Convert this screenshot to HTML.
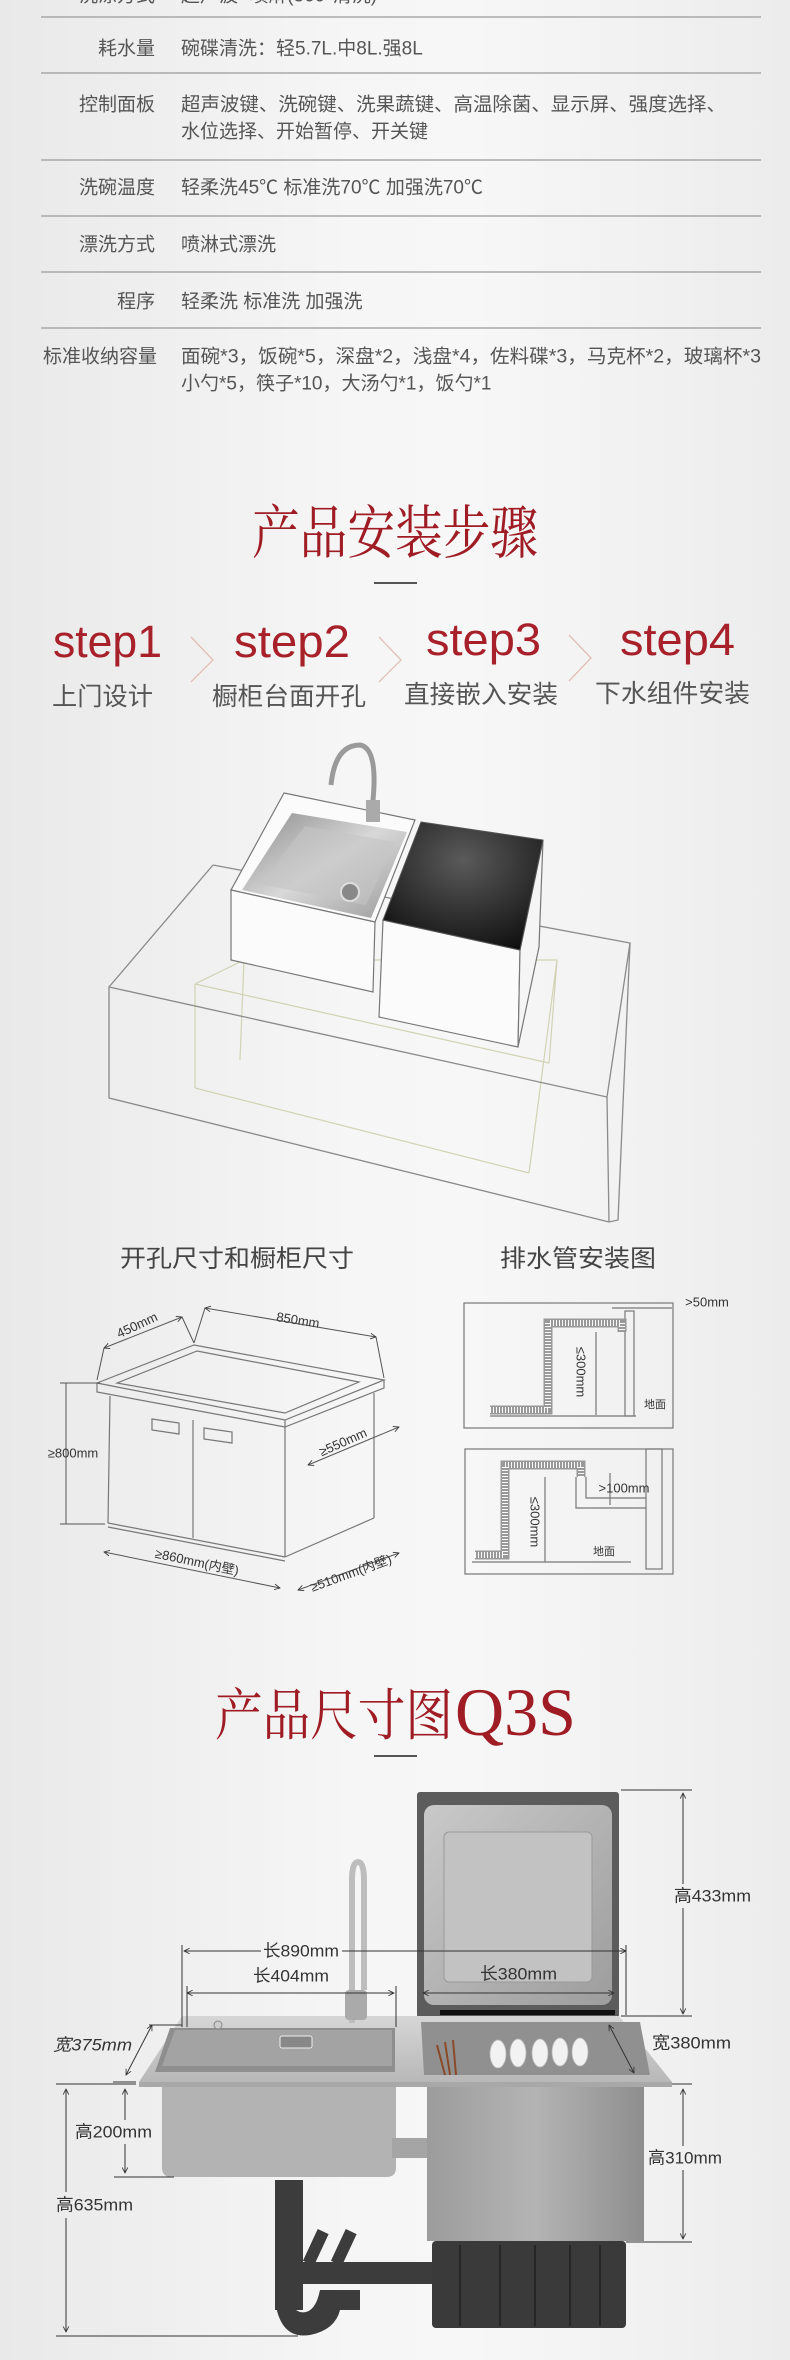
<!DOCTYPE html>
<html><head><meta charset="utf-8">
<style>
html,body{margin:0;padding:0;}
body{width:790px;height:2360px;overflow:hidden;background:linear-gradient(90deg,#e9e9e9 0%,#f6f6f6 45%,#f7f7f7 60%,#ececec 100%);}
svg{position:absolute;left:0;top:0;}
.t{font-family:"Liberation Sans","Noto Sans CJK SC",sans-serif;}
</style></head>
<body>
<svg width="790" height="2360" viewBox="0 0 790 2360" xmlns="http://www.w3.org/2000/svg">
<defs>
 <linearGradient id="basin" x1="0" y1="0" x2="1" y2="1">
  <stop offset="0" stop-color="#8a8a8a"/><stop offset="0.5" stop-color="#d8d8d8"/><stop offset="1" stop-color="#9a9a9a"/>
 </linearGradient>
 <radialGradient id="dark" cx="0.5" cy="0.3" r="0.8">
  <stop offset="0" stop-color="#5a5a5a"/><stop offset="1" stop-color="#0c0c0c"/>
 </radialGradient>
 <linearGradient id="slab" x1="0" y1="0" x2="0" y2="1">
  <stop offset="0" stop-color="#d6d6d6"/><stop offset="1" stop-color="#b8b8b8"/>
 </linearGradient>
 <linearGradient id="lid" x1="0" y1="0" x2="1" y2="1">
  <stop offset="0" stop-color="#c9c9c9"/><stop offset="1" stop-color="#9d9d9d"/>
 </linearGradient>
 <linearGradient id="body" x1="0" y1="0" x2="1" y2="0">
  <stop offset="0" stop-color="#9c9c9c"/><stop offset="0.5" stop-color="#b4b4b4"/><stop offset="1" stop-color="#8e8e8e"/>
 </linearGradient>
 <marker id="ar" viewBox="0 0 10 10" refX="9" refY="5" markerWidth="7" markerHeight="7" orient="auto-start-reverse">
  <path d="M1,1 L9,5 L1,9" fill="none" stroke="#333" stroke-width="1.2"/>
 </marker>
</defs>

<!-- ===== Spec table ===== -->
<g class="t" font-size="19" fill="#555" dominant-baseline="central">
 <text x="155" y="-4" text-anchor="end">洗涤方式</text>
 <text x="181" y="-4">超声波+喷淋(360°清洗)</text>
 <text x="155" y="49" text-anchor="end">耗水量</text>
 <text x="181" y="49">碗碟清洗：轻5.7L.中8L.强8L</text>
 <text x="155" y="105" text-anchor="end">控制面板</text>
 <text x="181" y="105" textLength="545" lengthAdjust="spacingAndGlyphs">超声波键、洗碗键、洗果蔬键、高温除菌、显示屏、强度选择、</text>
 <text x="181" y="132">水位选择、开始暂停、开关键</text>
 <text x="155" y="188" text-anchor="end">洗碗温度</text>
 <text x="181" y="188">轻柔洗45℃ 标准洗70℃ 加强洗70℃</text>
 <text x="155" y="245" text-anchor="end">漂洗方式</text>
 <text x="181" y="245">喷淋式漂洗</text>
 <text x="155" y="302" text-anchor="end">程序</text>
 <text x="181" y="302">轻柔洗 标准洗 加强洗</text>
 <text x="157" y="357" text-anchor="end">标准收纳容量</text>
 <text x="181" y="357" textLength="580" lengthAdjust="spacingAndGlyphs">面碗*3，饭碗*5，深盘*2，浅盘*4，佐料碟*3，马克杯*2，玻璃杯*3</text>
 <text x="181" y="384">小勺*5，筷子*10，大汤勺*1，饭勺*1</text>
</g>
<g stroke="#9a9a9a" stroke-width="1.3">
 <line x1="41" y1="17" x2="761" y2="17"/><line x1="41" y1="73" x2="761" y2="73"/>
 <line x1="41" y1="160" x2="761" y2="160"/><line x1="41" y1="216" x2="761" y2="216"/>
 <line x1="41" y1="272" x2="761" y2="272"/><line x1="41" y1="328" x2="761" y2="328"/>
</g>

<!-- ===== Install steps ===== -->
<text x="395" y="528" text-anchor="middle" dominant-baseline="central" font-family="'Noto Serif CJK SC',serif" font-size="58" fill="#a01c24" textLength="286" lengthAdjust="spacingAndGlyphs">产品安装步骤</text>
<rect x="374" y="582" width="43" height="2" fill="#555"/>
<g font-family="'Liberation Sans',sans-serif" font-size="45" fill="#a8202a">
 <text x="53" y="657" textLength="109" lengthAdjust="spacingAndGlyphs">step1</text>
 <text x="234" y="657" textLength="116" lengthAdjust="spacingAndGlyphs">step2</text>
 <text x="426" y="655" textLength="115" lengthAdjust="spacingAndGlyphs">step3</text>
 <text x="620" y="655" textLength="115" lengthAdjust="spacingAndGlyphs">step4</text>
</g>
<g fill="none" stroke="#e2bfb6" stroke-width="1.3">
 <polyline points="191,637 213,660 191,682"/>
 <polyline points="379,637 401,660 379,682"/>
 <polyline points="569,635 591,658 569,681"/>
</g>
<g class="t" font-size="25" fill="#555" dominant-baseline="central">
 <text x="52" y="697" textLength="101" lengthAdjust="spacingAndGlyphs">上门设计</text>
 <text x="212" y="697" textLength="154" lengthAdjust="spacingAndGlyphs">橱柜台面开孔</text>
 <text x="404" y="695" textLength="154" lengthAdjust="spacingAndGlyphs">直接嵌入安装</text>
 <text x="595" y="694" textLength="155" lengthAdjust="spacingAndGlyphs">下水组件安装</text>
</g>

<!-- ===== Wireframe install illustration ===== -->
<g fill="none" stroke="#d2d2b4" stroke-width="1.2">
 <polyline points="195,984 244,960 557,960 549,1063"/>
 <line x1="195" y1="984" x2="549" y2="1063"/>
 <line x1="195" y1="984" x2="195" y2="1088"/>
 <line x1="195" y1="1088" x2="529" y2="1173"/>
 <line x1="557" y1="960" x2="529" y2="1173"/>
 <line x1="244" y1="960" x2="240" y2="1060"/>
</g>
<g fill="none" stroke="#8a8a8a" stroke-width="1.3">
 <polyline points="213,865 109,987 109,1098 609,1222 618,1220 630,943 213,865"/>
 <line x1="109" y1="987" x2="607" y2="1097"/>
 <line x1="607" y1="1097" x2="609" y2="1222"/>
 <line x1="607" y1="1097" x2="630" y2="943"/>
</g>
<!-- sink box -->
<polygon points="284,793 415,820 375,922 231,890" fill="#fbfbfb" stroke="#777" stroke-width="1.2"/>
<polygon points="231,890 375,922 373,992 231,960" fill="#fbfbfb" stroke="#777" stroke-width="1.2"/>
<polygon points="292,813 407,832 371,918 242,890" fill="url(#basin)"/>
<polygon points="305,826 395,842 366,905 260,884" fill="#c5c5c5" opacity="0.6"/>
<circle cx="350" cy="892" r="9" fill="#888" stroke="#ddd" stroke-width="2"/>
<!-- dishwasher box -->
<polygon points="383,920 520,950 518,1047 379,1017" fill="#fbfbfb" stroke="#777" stroke-width="1.2"/>
<polygon points="520,950 543,840 539,947 518,1047" fill="#f5f5f5" stroke="#777" stroke-width="1.2"/>
<polygon points="421,822 543,840 520,950 383,920" fill="url(#dark)" stroke="#555" stroke-width="1"/>
<!-- faucet -->
<path d="M331,785 Q335,745 360,745 Q378,748 373,800 L373,822" fill="none" stroke="#9a9a9a" stroke-width="5"/>
<rect x="366" y="800" width="14" height="22" fill="#aaa"/>

<!-- ===== Dimension drawings ===== -->
<g class="t" font-size="24" fill="#444" dominant-baseline="central">
 <text x="120" y="1259" textLength="234" lengthAdjust="spacingAndGlyphs">开孔尺寸和橱柜尺寸</text>
 <text x="500" y="1259" textLength="156" lengthAdjust="spacingAndGlyphs">排水管安装图</text>
</g>
<!-- cabinet -->
<g fill="none" stroke="#777" stroke-width="1.2">
 <polygon points="97,1383 194,1345 384,1380 285,1420"/>
 <polyline points="97,1383 97,1392 285,1427 384,1388 384,1380"/>
 <line x1="285" y1="1420" x2="285" y2="1427"/>
 <polygon points="117,1383 197,1351 359,1382 285,1413"/>
 <line x1="110" y1="1396" x2="108" y2="1523"/>
 <line x1="285" y1="1427" x2="285" y2="1557"/>
 <line x1="374" y1="1393" x2="374" y2="1518"/>
 <line x1="108" y1="1523" x2="285" y2="1557"/>
 <line x1="108" y1="1527" x2="285" y2="1561"/>
 <line x1="285" y1="1557" x2="374" y2="1518"/>
 <line x1="193" y1="1420" x2="193" y2="1538"/>
 <polygon points="152,1419 179,1423 179,1434 152,1430"/>
 <polygon points="204,1428 232,1432 232,1443 204,1439"/>
</g>
<g stroke="#555" stroke-width="1" fill="none">
 <line x1="104" y1="1348" x2="182" y2="1317" marker-start="url(#ar)" marker-end="url(#ar)"/>
 <line x1="205" y1="1308" x2="376" y2="1337" marker-start="url(#ar)" marker-end="url(#ar)"/>
 <line x1="66" y1="1383" x2="66" y2="1524"/>
 <line x1="60" y1="1383" x2="100" y2="1383"/><line x1="60" y1="1524" x2="105" y2="1524"/>
 <line x1="308" y1="1465" x2="399" y2="1427" marker-start="url(#ar)" marker-end="url(#ar)"/>
 <line x1="104" y1="1552" x2="280" y2="1588" marker-start="url(#ar)" marker-end="url(#ar)"/>
 <line x1="298" y1="1590" x2="399" y2="1553" marker-start="url(#ar)" marker-end="url(#ar)"/>
 <line x1="104" y1="1348" x2="97" y2="1380"/><line x1="182" y1="1317" x2="194" y2="1343"/>
 <line x1="205" y1="1308" x2="194" y2="1343"/><line x1="376" y1="1337" x2="384" y2="1378"/>
</g>
<g class="t" font-size="13" fill="#333" dominant-baseline="central" text-anchor="middle">
 <text transform="translate(137,1325) rotate(-25)">450mm</text>
 <text transform="translate(298,1320) rotate(9)">850mm</text>
 <text x="73" y="1453">≥800mm</text>
 <text transform="translate(343,1442) rotate(-24)">≥550mm</text>
 <text transform="translate(197,1562) rotate(12)">≥860mm(内壁)</text>
 <text transform="translate(351,1573) rotate(-20)">≥510mm(内壁)</text>
</g>
<!-- drain box 1 -->
<g fill="none" stroke="#777" stroke-width="1.2">
 <rect x="464" y="1303" width="209" height="125"/>
 <line x1="490" y1="1416" x2="636" y2="1416"/>
 <rect x="625" y="1311" width="9" height="105"/>
 <path d="M490,1410 L548,1410 L548,1323 L622,1323 L622,1332" stroke="#999" stroke-width="9"/>
 <path d="M490,1410 L548,1410 L548,1323 L622,1323 L622,1332" stroke="#fafafa" stroke-width="6" stroke-dasharray="1 2"/>
 <line x1="596" y1="1332" x2="596" y2="1415"/>
 <line x1="612" y1="1308" x2="672" y2="1308"/>
</g>
<!-- drain box 2 -->
<g fill="none" stroke="#777" stroke-width="1.2">
 <rect x="465" y="1449" width="208" height="125"/>
 <rect x="646" y="1449" width="16" height="120"/>
 <line x1="472" y1="1562" x2="631" y2="1562"/>
 <polyline points="576,1477 576,1508 646,1508"/>
 <polyline points="586,1477 586,1498 646,1498"/>
 <path d="M475,1555 L505,1555 L505,1465 L581,1465 L581,1477" stroke="#999" stroke-width="9"/>
 <path d="M475,1555 L505,1555 L505,1465 L581,1465 L581,1477" stroke="#fafafa" stroke-width="6" stroke-dasharray="1 2"/>
 <line x1="545" y1="1477" x2="545" y2="1562"/>
 <line x1="610" y1="1473" x2="610" y2="1505"/>
</g>
<g class="t" fill="#333" dominant-baseline="central">
 <text x="707" y="1302" font-size="13" text-anchor="middle">&gt;50mm</text>
 <text x="655" y="1405" font-size="11" text-anchor="middle">地面</text>
 <text transform="translate(581,1372) rotate(90)" font-size="13" text-anchor="middle">≤300mm</text>
 <text x="624" y="1488" font-size="13" text-anchor="middle">&gt;100mm</text>
 <text transform="translate(535,1522) rotate(90)" font-size="13" text-anchor="middle">≤300mm</text>
 <text x="604" y="1552" font-size="11" text-anchor="middle">地面</text>
</g>

<!-- ===== Product size ===== -->
<g fill="#a01c24" dominant-baseline="central">
 <text x="215" y="1712" font-family="'Noto Serif CJK SC',serif" font-size="56" textLength="238" lengthAdjust="spacingAndGlyphs">产品尺寸图</text>
 <text x="455" y="1712" font-family="'Liberation Serif',serif" font-size="68" textLength="121" lengthAdjust="spacingAndGlyphs">Q3S</text>
</g>
<rect x="374" y="1755" width="43" height="2" fill="#555"/>

<!-- drain pipes -->
<g fill="#3c3c3c">
 <rect x="275" y="2180" width="28" height="130"/>
 <rect x="296" y="2262" width="138" height="22"/>
 <path d="M275,2300 Q280,2340 310,2335 Q335,2330 340,2310 L360,2310 L360,2290 L320,2290 Q315,2315 300,2312 Z"/>
 <rect x="310" y="2230" width="12" height="35" transform="rotate(25 316 2247)"/>
 <rect x="338" y="2230" width="12" height="35" transform="rotate(25 344 2247)"/>
</g>
<!-- left basin body -->
<path d="M162,2086 L396,2086 L396,2168 Q396,2177 386,2177 L172,2177 Q162,2177 162,2168 Z" fill="#b3b3b3"/>
<rect x="392" y="2138" width="60" height="20" fill="#a5a5a5"/>
<!-- dishwasher body -->
<rect x="427" y="2086" width="217" height="155" fill="url(#body)"/>
<rect x="432" y="2241" width="194" height="87" rx="4" fill="#3a3a3a"/>
<g stroke="#262626" stroke-width="2">
 <line x1="460" y1="2245" x2="460" y2="2326"/><line x1="500" y1="2245" x2="500" y2="2326"/>
 <line x1="535" y1="2245" x2="535" y2="2326"/><line x1="570" y1="2245" x2="570" y2="2326"/><line x1="600" y1="2245" x2="600" y2="2326"/>
</g>
<!-- lid -->
<rect x="417" y="1792" width="202" height="226" rx="3" fill="#5c5c5c"/>
<rect x="424" y="1805" width="188" height="200" rx="10" fill="url(#lid)"/>
<rect x="444" y="1832" width="148" height="150" rx="5" fill="#c2c2c2" stroke="#9a9a9a"/>
<rect x="440" y="2010" width="175" height="5" fill="#111"/>
<!-- slab -->
<polygon points="182,2016 619,2016 672,2082 139,2082" fill="url(#slab)"/>
<rect x="139" y="2082" width="533" height="5" fill="#a8a8a8"/>
<path d="M170,2028 L395,2028 L395,2072 L155,2072 Z" fill="#8e8e8e"/>
<path d="M175,2030 L392,2030 L392,2066 L162,2066 Z" fill="#a3a3a3"/>
<rect x="280" y="2036" width="32" height="12" rx="2" fill="#888" stroke="#eee"/>
<path d="M421,2022 L640,2022 L650,2075 L424,2075 Z" fill="#909090"/>
<g fill="#f2f2f2" stroke="#bbb" stroke-width="0.8">
 <ellipse cx="498" cy="2054" rx="8" ry="14"/><ellipse cx="518" cy="2053" rx="8" ry="14"/>
 <ellipse cx="540" cy="2053" rx="8" ry="14"/><ellipse cx="560" cy="2052" rx="8" ry="14"/><ellipse cx="580" cy="2052" rx="8" ry="14"/>
</g>
<g stroke="#8a4a2a" stroke-width="2"><line x1="437" y1="2045" x2="445" y2="2075"/><line x1="445" y1="2042" x2="450" y2="2075"/><line x1="453" y1="2040" x2="456" y2="2075"/></g>
<circle cx="218" cy="2025" r="4" fill="#ccc" stroke="#888"/>
<!-- faucet -->
<path d="M352,2023 L352,1880 Q352,1862 358,1862 Q364,1862 364,1880 L364,1990" fill="none" stroke="#bdbdbd" stroke-width="6"/>
<rect x="345" y="1990" width="22" height="30" rx="4" fill="#aaa"/>

<!-- dimension lines -->
<g stroke="#333" stroke-width="1" fill="none">
 <line x1="184" y1="1951" x2="261" y2="1951" marker-start="url(#ar)"/>
 <line x1="342" y1="1951" x2="626" y2="1951" marker-end="url(#ar)"/>
 <line x1="182" y1="1945" x2="182" y2="2027"/><line x1="626" y1="1945" x2="626" y2="2015"/>
 <line x1="187" y1="1993" x2="394" y2="1993" marker-start="url(#ar)" marker-end="url(#ar)"/>
 <line x1="187" y1="1986" x2="187" y2="2027"/><line x1="396" y1="1986" x2="396" y2="2027"/>
 <line x1="423" y1="1993" x2="614" y2="1993" marker-start="url(#ar)" marker-end="url(#ar)"/>
 <line x1="152" y1="2025" x2="126" y2="2075" marker-start="url(#ar)" marker-end="url(#ar)"/>
 <line x1="149" y1="2025" x2="182" y2="2025"/><line x1="113" y1="2082" x2="136" y2="2082"/>
 <line x1="609" y1="2025" x2="634" y2="2073" marker-start="url(#ar)" marker-end="url(#ar)"/>
 <line x1="683" y1="1793" x2="683" y2="1884" marker-start="url(#ar)"/>
 <line x1="683" y1="1908" x2="683" y2="2014" marker-end="url(#ar)"/>
 <line x1="621" y1="1790" x2="692" y2="1790"/><line x1="621" y1="2016" x2="692" y2="2016"/>
 <line x1="683" y1="2089" x2="683" y2="2146" marker-start="url(#ar)"/>
 <line x1="683" y1="2170" x2="683" y2="2239" marker-end="url(#ar)"/>
 <line x1="672" y1="2084" x2="692" y2="2084"/><line x1="626" y1="2242" x2="692" y2="2242"/>
 <line x1="125" y1="2089" x2="125" y2="2120" marker-start="url(#ar)"/>
 <line x1="125" y1="2144" x2="125" y2="2173" marker-end="url(#ar)"/>
 <line x1="56" y1="2084" x2="136" y2="2084"/><line x1="114" y1="2177" x2="174" y2="2177"/>
 <line x1="66" y1="2089" x2="66" y2="2192" marker-start="url(#ar)"/>
 <line x1="66" y1="2218" x2="66" y2="2332" marker-end="url(#ar)"/>
 <line x1="56" y1="2336" x2="298" y2="2336"/>
</g>
<g class="t" font-size="17" fill="#333" dominant-baseline="central">
 <text x="263" y="1951" textLength="76" lengthAdjust="spacingAndGlyphs">长890mm</text>
 <text x="253" y="1976" textLength="76" lengthAdjust="spacingAndGlyphs">长404mm</text>
 <text x="480" y="1974" textLength="77" lengthAdjust="spacingAndGlyphs">长380mm</text>
 <text x="53" y="2045" font-style="italic" textLength="79" lengthAdjust="spacingAndGlyphs">宽375mm</text>
 <text x="652" y="2043" textLength="79" lengthAdjust="spacingAndGlyphs">宽380mm</text>
 <text x="674" y="1896" textLength="77" lengthAdjust="spacingAndGlyphs">高433mm</text>
 <text x="648" y="2158" textLength="74" lengthAdjust="spacingAndGlyphs">高310mm</text>
 <text x="75" y="2132" textLength="77" lengthAdjust="spacingAndGlyphs">高200mm</text>
 <text x="56" y="2205" textLength="77" lengthAdjust="spacingAndGlyphs">高635mm</text>
</g>
</svg>
</body></html>
